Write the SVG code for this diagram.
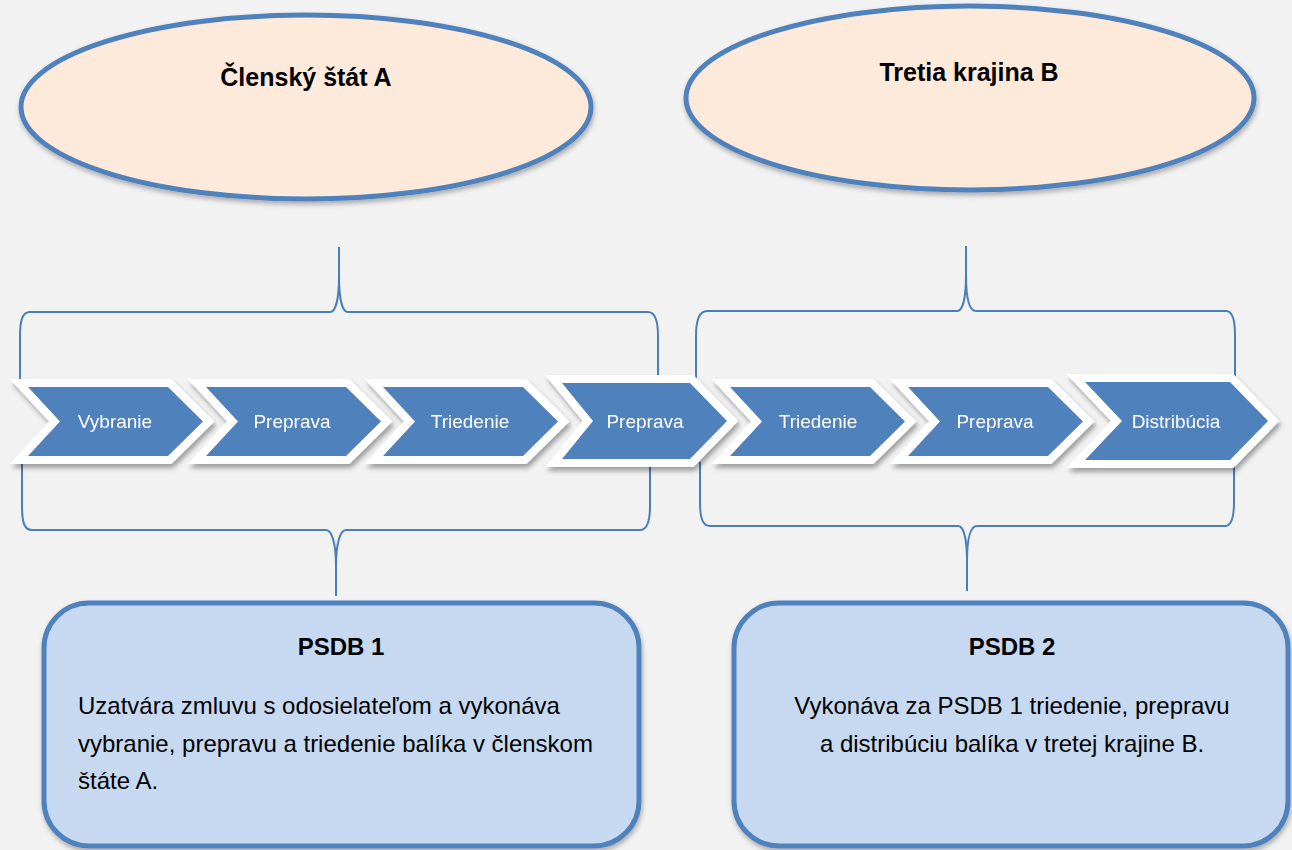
<svg xmlns="http://www.w3.org/2000/svg" width="1292" height="850" viewBox="0 0 1292 850">
<defs>
<filter id="sh" x="-20%" y="-30%" width="140%" height="160%">
<feDropShadow dx="2" dy="4" stdDeviation="2.5" flood-color="#000" flood-opacity="0.35"/>
</filter>
<filter id="shs" x="-10%" y="-10%" width="120%" height="130%">
<feDropShadow dx="1" dy="3" stdDeviation="2.5" flood-color="#000" flood-opacity="0.3"/>
</filter>
<style>
.ell{fill:#FDEADA;stroke:#4F81BD;stroke-width:5}
.box{fill:#C6D9F1;stroke:#4F81BD;stroke-width:5}
.chev{fill:#4F81BD;stroke:#FFFFFF;stroke-width:16;stroke-linejoin:miter;stroke-miterlimit:10;paint-order:stroke}
.brace{fill:none;stroke:#4A7EBB;stroke-width:2}
.ct{font-family:"Liberation Sans",Arial,sans-serif;font-size:19px;fill:#FFFFFF;text-anchor:middle}
.title{font-family:"Liberation Sans",Arial,sans-serif;font-size:25px;font-weight:bold;fill:#000;text-anchor:middle}
.body{font-family:"Liberation Sans",Arial,sans-serif;font-size:24px;fill:#000}
</style>
</defs>
<rect x="0" y="0" width="1292" height="850" fill="#F2F2F2"/>

<g id="stateA">
<ellipse class="ell" cx="306" cy="107" rx="285" ry="92" filter="url(#shs)"/>
<text class="title" x="306" y="86">Členský štát A</text>
</g>
<g id="countryB">
<ellipse class="ell" cx="970" cy="98" rx="284" ry="92" filter="url(#shs)"/>
<text class="title" x="969" y="81">Tretia krajina B</text>
</g>

<g id="connectors">
<path class="brace" d="M20 382 L20 336 C20 319 23 312 30 312 L330 312 C336 312 339 298 339 276 L339 247 L339 276 C339 298 342 312 348 312 L648 312 C654 312 658 319 658 336 L658 382"/>
<path class="brace" d="M696 382 L696 336 C696 319 700 311 707 311 L957 311 C963 311 966 297 966 275 L966 246 L966 275 C966 297 969 311 976 311 L1226 311 C1232 311 1235 318 1235 335 L1235 382"/>
<path class="brace" d="M22 462 L22 506 C22 524 25 530 32 530 L326 530 C332 530 336 544 336 566 L336 596 L336 566 C336 544 340 530 346 530 L640 530 C646 530 650 524 650 506 L650 462"/>
<path class="brace" d="M700 462 L700 502 C700 519 703 526 710 526 L958 526 C964 526 967 540 967 562 L967 591 L967 562 C967 540 970 526 977 526 L1225 526 C1231 526 1234 519 1234 502 L1234 462"/>
</g>

<g id="chev1" filter="url(#sh)">
<polygon class="chev" points="28,387 168,387 203,421.5 168,456 28,456 60,421.5"/>
<text class="ct" x="115" y="428">Vybranie</text>
</g>
<g id="chev2" filter="url(#sh)">
<polygon class="chev" points="206,387 346,387 381,421.5 346,456 206,456 238,421.5"/>
<text class="ct" x="292" y="428">Preprava</text>
</g>
<g id="chev3" filter="url(#sh)">
<polygon class="chev" points="383,387 523,387 558,421.5 523,456 383,456 415,421.5"/>
<text class="ct" x="470" y="428">Triedenie</text>
</g>
<g id="chev4" filter="url(#sh)">
<polygon class="chev" points="562,383 690,383 727,421 690,459 562,459 593,421"/>
<text class="ct" x="645" y="428">Preprava</text>
</g>
<g id="chev5" filter="url(#sh)">
<polygon class="chev" points="730,387 870,387 905,421.5 870,456 730,456 762,421.5"/>
<text class="ct" x="818" y="428">Triedenie</text>
</g>
<g id="chev6" filter="url(#sh)">
<polygon class="chev" points="908,387 1048,387 1083,421.5 1048,456 908,456 940,421.5"/>
<text class="ct" x="995" y="428">Preprava</text>
</g>
<g id="chev7" filter="url(#sh)">
<polygon class="chev" points="1085,382 1230,382 1268,421 1230,460 1085,460 1122,421"/>
<text class="ct" x="1176" y="428">Distribúcia</text>
</g>

<g id="psdb1">
<rect class="box" x="44" y="603" width="595" height="243" rx="45" ry="45" filter="url(#shs)"/>
<text class="title" x="341" y="655" style="font-size:24px">PSDB 1</text>
<text class="body" x="78" y="714">Uzatvára zmluvu s odosielateľom a vykonáva</text>
<text class="body" x="78" y="752">vybranie, prepravu a triedenie balíka v členskom</text>
<text class="body" x="78" y="789">štáte A.</text>
</g>
<g id="psdb2">
<rect class="box" x="734" y="603" width="554" height="243" rx="45" ry="45" filter="url(#shs)"/>
<text class="title" x="1012" y="655" style="font-size:24px">PSDB 2</text>
<text class="body" x="1012" y="714" text-anchor="middle">Vykonáva za PSDB 1 triedenie, prepravu</text>
<text class="body" x="1012" y="752" text-anchor="middle">a distribúciu balíka v tretej krajine B.</text>
</g>
</svg>
